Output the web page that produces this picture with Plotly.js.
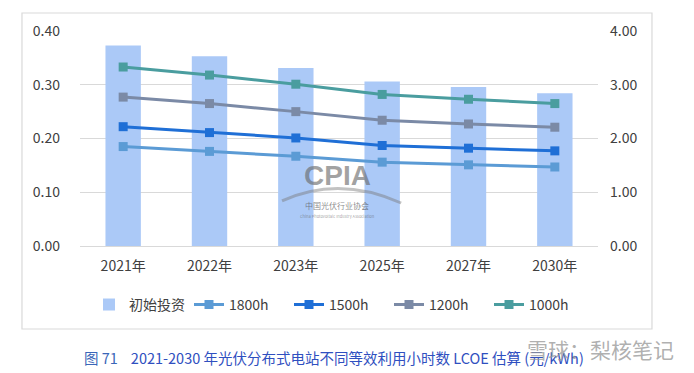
<!DOCTYPE html>
<html>
<head>
<meta charset="utf-8">
<script src="https://cdn.plot.ly/plotly-3.0.1.min.js"></script>
<style>html,body{margin:0;padding:0;background:#fff;}#chart{width:694px;height:373px;}</style>
</head>
<body>
<div id="chart"></div>
<script>
const categories = ["2021年", "2022年", "2023年", "2025年", "2027年", "2030年"];
const investment = [3.73, 3.53, 3.31, 3.06, 2.96, 2.84];
const h1800 = [0.185, 0.176, 0.167, 0.156, 0.151, 0.147];
const h1500 = [0.222, 0.211, 0.201, 0.187, 0.182, 0.177];
const h1200 = [0.277, 0.265, 0.250, 0.234, 0.227, 0.221];
const h1000 = [0.333, 0.318, 0.301, 0.282, 0.273, 0.265];
const leftTicks = [0, 0.1, 0.2, 0.3, 0.4];
const leftTickText = ["0.00", "0.10", "0.20", "0.30", "0.40"];
const rightTicks = [0, 1, 2, 3, 4];
const rightTickText = ["0.00", "1.00", "2.00", "3.00", "4.00"];

const FONT = "'Microsoft YaHei', 'Noto Sans CJK SC', 'Noto Sans', sans-serif";

function lineTrace(name, y, color) {
  return {
    type: "scatter", mode: "lines+markers", name: name,
    x: categories, y: y, yaxis: "y2",
    line: {color: color, width: 3},
    marker: {symbol: "square", size: 9, color: color}
  };
}

const data = [
  {type: "bar", name: "初始投资", x: categories, y: investment, yaxis: "y",
   marker: {color: "#abc9f7"}},
  lineTrace("1800h", h1800, "#5b9bd5"),
  lineTrace("1500h", h1500, "#1f6fd6"),
  lineTrace("1200h", h1200, "#7b8aa6"),
  lineTrace("1000h", h1000, "#4a9d9f")
];

const layout = {
  width: 694, height: 373,
  margin: {l: 80, r: 96, t: 31, b: 127},
  paper_bgcolor: "#fff", plot_bgcolor: "#fff",
  font: {family: FONT, size: 14, color: "#404040"},
  bargap: 0.59,
  showlegend: true,
  legend: {orientation: "h", x: 0.5, xanchor: "center", y: -0.274, yanchor: "middle",
           font: {size: 14, color: "#404040"}, traceorder: "normal", itemwidth: 30,
           entrywidth: 55, entrywidthmode: "pixels"},
  xaxis: {type: "category", showgrid: false, showline: false, ticks: "",
          tickfont: {size: 14, color: "#404040"}, ticklabelstandoff: 10},
  yaxis: {side: "right", range: [0, 4], tickvals: rightTicks, ticktext: rightTickText,
          showgrid: true, gridcolor: "#d9d9d9", gridwidth: 1, zeroline: true, zerolinecolor: "#d9d9d9",
          showline: false, ticks: "", ticklabelstandoff: 11, tickfont: {size: 14, color: "#404040"}},
  yaxis2: {overlaying: "y", side: "left", range: [0, 0.4], tickvals: leftTicks, ticktext: leftTickText,
           showgrid: false, zeroline: false, showline: false, ticks: "", ticklabelstandoff: 19,
           tickfont: {size: 14, color: "#404040"}},
  shapes: [
    {type: "rect", xref: "paper", yref: "paper", x0: -0.112, x1: 1.1042, y0: -0.386, y1: 1.0837,
     line: {color: "#d9d9d9", width: 1.2}, fillcolor: "rgba(0,0,0,0)", layer: "below"},
    {type: "path", xref: "paper", yref: "paper",
     path: "M 0.39,0.21 Q 0.50,0.33 0.62,0.20", line: {color: "rgba(120,120,120,0.45)", width: 3}}
  ],
  annotations: [
    {xref: "paper", yref: "paper", x: 0.497, y: 0.33, xanchor: "center", yanchor: "middle",
     text: "<b>CPIA</b>", showarrow: false,
     font: {family: "'Liberation Sans', Arial, sans-serif", size: 28, color: "rgba(100,100,100,0.6)"}},
    {xref: "paper", yref: "paper", x: 0.497, y: 0.19, xanchor: "center", yanchor: "middle",
     text: "中国光伏行业协会", showarrow: false,
     font: {family: FONT, size: 8, color: "rgba(90,90,90,0.7)"}},
    {xref: "paper", yref: "paper", x: 0.497, y: 0.14, xanchor: "center", yanchor: "middle",
     text: "China Photovoltaic Industry Association", showarrow: false,
     font: {family: FONT, size: 4, color: "rgba(90,90,90,0.6)"}},
    {xref: "paper", yref: "paper", x: 0.0039, y: -0.52, xanchor: "left", yanchor: "middle",
     text: "<span style='color:#3a66b8'>图 71</span>    2021-2030 年光伏分布式电站不同等效利用小时数 LCOE 估算 (元/kWh)",
     showarrow: false, font: {family: FONT, size: 14.5, color: "#2f4fc0"}},
    {xref: "paper", yref: "paper", x: 1.15, y: -0.48, xanchor: "right", yanchor: "middle",
     text: "雪球：梨核笔记", showarrow: false,
     font: {family: FONT, size: 21, color: "rgba(150,150,150,0.75)"}}
  ]
};

Plotly.newPlot("chart", data, layout, {displayModeBar: false, staticPlot: true});
</script>
</body>
</html>
